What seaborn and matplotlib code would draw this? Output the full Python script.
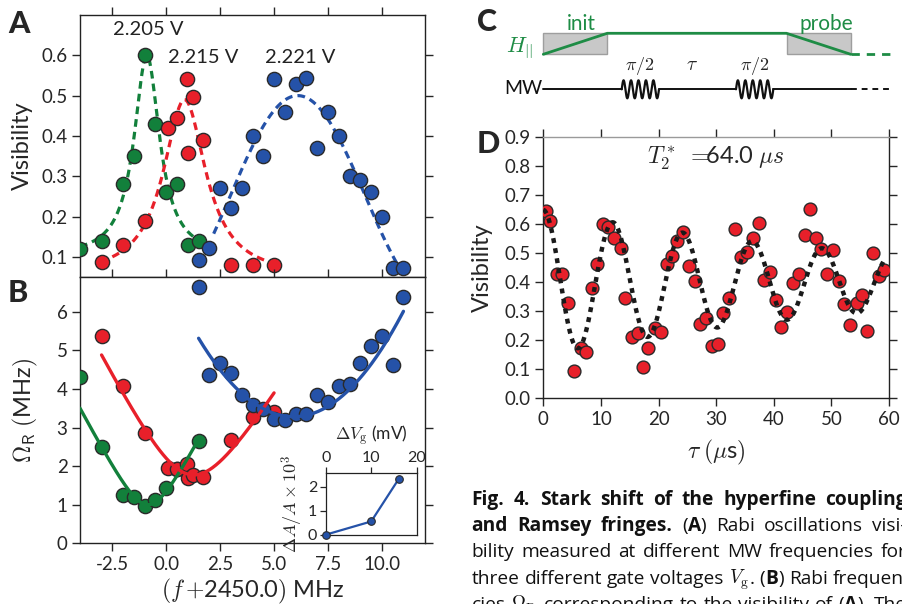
import numpy as np
import matplotlib
matplotlib.use('Agg')
import matplotlib.pyplot as plt
import seaborn as sns
from matplotlib.patches import Rectangle

# ---- data ----
freq_green = [-4, -3, -2, -1.5, -1, -0.5, 0, 0.5, 1, 1.5]
vis_green = [0.12, 0.14, 0.28, 0.35, 0.60, 0.43, 0.26, 0.28, 0.13, 0.14]
rabi_green = [4.32, 2.50, 1.25, 1.21, 0.97, 1.12, 1.42, 1.92, 1.81, 2.66]

freq_red = [-3, -2, -1, 0.1, 0.5, 0.95, 1.0, 1.25, 1.7, 3, 4, 5]
vis_red = [0.087, 0.13, 0.19, 0.42, 0.445, 0.54, 0.357, 0.497, 0.39, 0.08, 0.08, 0.08]
rabi_red = [5.37, 4.08, 2.85, 1.94, 1.92, 2.05, 1.68, 1.78, 1.71, 2.68, 3.28, 3.41]

freq_blue = [1.5, 2, 2.5, 3, 3.5, 4, 4.5, 5, 5.5, 6, 6.5, 7, 7.5, 8, 8.5, 9, 9.5, 10, 10.5, 11]
vis_blue = [0.092, 0.122, 0.27, 0.22, 0.27, 0.40, 0.35, 0.54, 0.46, 0.53,
            0.543, 0.37, 0.46, 0.40, 0.30, 0.29, 0.262, 0.20, 0.072, 0.072]
rabi_blue = [6.63, 4.36, 4.66, 4.40, 3.84, 3.58, 3.47, 3.21, 3.20, 3.35,
             3.35, 3.84, 3.67, 4.07, 4.14, 4.68, 5.11, 5.37, 4.62, 6.37]

gate_labels = ['2.205 V', '2.215 V', '2.221 V']

inset_dvg = [0, 10, 16]
inset_dA = [0.0, 0.55, 2.3]

tau = [0.46, 1.16, 2.43, 3.3, 4.34, 5.38, 6.48, 7.35, 8.5, 9.26, 10.3, 11.28, 12.27, 13.42,
       14.18, 15.33, 16.37, 17.24, 18.23, 19.38, 20.37, 21.41, 22.28, 23.26, 24.3, 25.34,
       26.33, 27.19, 28.24, 29.22, 30.26, 31.24, 32.29, 33.27, 34.31, 35.29, 36.34, 37.44,
       38.3, 39.34, 40.33, 41.25, 42.35, 43.39, 44.38, 45.42, 46.29, 47.27, 48.14, 49.18,
       50.34, 51.32, 52.25, 53.23, 54.39, 55.37, 56.24, 57.28, 58.26, 59.13]
vis_ramsey = [0.647, 0.613, 0.429, 0.429, 0.328, 0.095, 0.175, 0.161, 0.379, 0.463, 0.601,
              0.59, 0.552, 0.517, 0.345, 0.213, 0.224, 0.107, 0.172, 0.241, 0.228, 0.463,
              0.492, 0.543, 0.575, 0.457, 0.406, 0.256, 0.278, 0.182, 0.186, 0.293, 0.345,
              0.584, 0.486, 0.503, 0.552, 0.606, 0.408, 0.434, 0.339, 0.247, 0.299, 0.397,
              0.429, 0.563, 0.652, 0.552, 0.515, 0.429, 0.511, 0.406, 0.324, 0.253, 0.328,
              0.356, 0.232, 0.5, 0.423, 0.443]

# fit parameters (as drawn in the figure)
lor_green = dict(x0=-0.9, w=0.72, amp=0.5, base=0.1, lo=-4, hi=1.5)
lor_red = dict(x0=0.85, w=1.2, amp=0.44, base=0.05, lo=-2.5, hi=4.65)
cos_blue = dict(x0=6.1, k=0.25, amp=0.5, lo=2.2, hi=10.7)
hyp_green = dict(x0=-0.85, om=1.0, a=1.065, tilt=0.0, lo=-4, hi=1.5)
hyp_red = dict(x0=1.1, om=1.78, a=1.0, tilt=-0.1, lo=-3, hi=5)
quad_blue = dict(x0=5.9, om=3.28, k=0.105, lo=1.5, hi=11)
ramsey_fit = dict(mean=0.4, amp=0.25, t2=64.0, period=12.1, lo=0, hi=59.5)

GREEN = '#12803b'
RED = '#e8202a'
BLUE = '#2552a8'
EDGE = '#2a2a2a'

sns.set_theme(style='ticks')
plt.rcParams['font.family'] = ['Lato', 'DejaVu Sans']
plt.rcParams['mathtext.fontset'] = 'cm'
plt.rcParams['axes.unicode_minus'] = False
plt.rcParams['axes.edgecolor'] = '#222222'
plt.rcParams['axes.linewidth'] = 1.0

W, H = 902, 604
fig = plt.figure(figsize=(W / 100, H / 100), dpi=100)


def box(l, t, r, b):
    return [l / W, 1 - b / H, (r - l) / W, (b - t) / H]


ax_a = fig.add_axes(box(80, 15, 425, 277))
ax_b = fig.add_axes(box(80, 277, 425, 543.3))
ax_in = fig.add_axes(box(325.7, 473.3, 416.7, 534.7))
ax_c = fig.add_axes(box(460, 0, 902, 120))
ax_d = fig.add_axes(box(543.3, 137.3, 889, 398.3))

TICK = 13.5
LABEL = 17

# ---- panel A ----
def lorentz(p, x):
    return p['base'] + p['amp'] / (1 + ((x - p['x0']) / p['w']) ** 2)

for p, c in [(lor_green, GREEN), (lor_red, RED)]:
    xs = np.linspace(p['lo'], p['hi'], 200)
    ln, = ax_a.plot(xs, lorentz(p, xs), color=c, lw=2.3, zorder=2)
    ln.set_dashes((2.4, 1.6))
xs = np.linspace(cos_blue['lo'], cos_blue['hi'], 200)
ln, = ax_a.plot(xs, cos_blue['amp'] * np.cos(cos_blue['k'] * (xs - cos_blue['x0'])) ** 2,
                color=BLUE, lw=2.3, zorder=2)
ln.set_dashes((2.4, 1.6))

for fx, fy, c in [(freq_green, vis_green, GREEN), (freq_red, vis_red, RED), (freq_blue, vis_blue, BLUE)]:
    sns.scatterplot(x=fx, y=fy, ax=ax_a, color=c, s=105, edgecolor=EDGE, linewidth=1, zorder=3)

ax_a.text(-2.47, 0.65, gate_labels[0], fontsize=14.5, color='#222222')
ax_a.text(0.06, 0.58, gate_labels[1], fontsize=14.5, color='#222222')
ax_a.text(4.58, 0.58, gate_labels[2], fontsize=14.5, color='#222222')

ax_a.set_xlim(-4, 12)
ax_a.set_ylim(0.05, 0.7)
ax_a.set_xticks([-2.5, 0, 2.5, 5, 7.5, 10])
ax_a.set_yticks([0.1, 0.2, 0.3, 0.4, 0.5, 0.6])
ax_a.set_yticklabels(['0.1', '0.2', '0.3', '0.4', '0.5', '0.6'])
ax_a.tick_params(direction='out', length=6, width=1, labelsize=TICK, top=True, right=True,
                 bottom=False, labelbottom=False, pad=3)
ax_a.set_ylabel('Visibility', fontsize=LABEL)
ax_a.yaxis.set_label_coords(-0.136, 0.5)

# ---- panel B ----
def hyper(p, x):
    d = x - p['x0']
    return np.sqrt(p['om'] ** 2 + (p['a'] * d) ** 2) + p['tilt'] * d

for p, c in [(hyp_green, GREEN), (hyp_red, RED)]:
    xs = np.linspace(p['lo'], p['hi'], 200)
    ax_b.plot(xs, hyper(p, xs), color=c, lw=2.4, zorder=4)
xs = np.linspace(quad_blue['lo'], quad_blue['hi'], 200)
ax_b.plot(xs, quad_blue['om'] + quad_blue['k'] * (xs - quad_blue['x0']) ** 2, color=BLUE, lw=2.4, zorder=4)

for fx, fy, c in [(freq_green, rabi_green, GREEN), (freq_red, rabi_red, RED), (freq_blue, rabi_blue, BLUE)]:
    sns.scatterplot(x=fx, y=fy, ax=ax_b, color=c, s=105, edgecolor=EDGE, linewidth=1, zorder=3)

ax_b.set_xlim(-4, 12)
ax_b.set_ylim(0, 6.9)
ax_b.set_xticks([-2.5, 0, 2.5, 5, 7.5, 10])
ax_b.set_xticklabels(['-2.5', '0.0', '2.5', '5.0', '7.5', '10.0'])
ax_b.set_yticks([0, 1, 2, 3, 4, 5, 6])
ax_b.tick_params(direction='out', length=6, width=1, labelsize=TICK, top=True, right=True, pad=3)
ax_b.set_ylabel(r'$\Omega_{\mathsf{R}}$ $($MHz$)$', fontsize=LABEL)
ax_b.yaxis.set_label_coords(-0.116, 0.5)
ax_b.set_xlabel(r'$(f\,{+}$2450.0$)$ MHz', fontsize=LABEL)
ax_b.xaxis.set_label_coords(0.5, -0.125)

# ---- inset ----
ax_in.set_facecolor('white')
sns.lineplot(x=inset_dvg, y=inset_dA, ax=ax_in, color=BLUE, lw=1.6)
sns.scatterplot(x=inset_dvg, y=inset_dA, ax=ax_in, color=BLUE, s=30, edgecolor=EDGE,
                linewidth=0.8, zorder=3, clip_on=False)
ax_in.set_xlim(0, 20)
ax_in.set_ylim(0, 2.55)
ax_in.set_xticks([0, 10, 20])
ax_in.set_yticks([0, 1, 2])
ax_in.xaxis.tick_top()
ax_in.xaxis.set_label_position('top')
ax_in.tick_params(direction='out', length=4, width=0.9, labelsize=11.5, pad=2)
ax_in.set_xlabel(r'$\Delta V_{\rm g}$ (mV)', fontsize=12.5, labelpad=8)
ax_in.set_ylabel(r'$\Delta A/A\times 10^3$', fontsize=13, labelpad=2)
for s in ax_in.spines.values():
    s.set_linewidth(0.9)

# ---- panel C (pulse scheme) ----
ax_c.set_xlim(460, 902)
ax_c.set_ylim(120, 0)
ax_c.axis('off')
ax_c.add_patch(Rectangle((543.3, 33.3), 64, 21, fc='#c8c8c8', ec='#9e9e9e', lw=1))
ax_c.add_patch(Rectangle((786.5, 33.3), 64, 21, fc='#c8c8c8', ec='#9e9e9e', lw=1))
ax_c.plot([543.3, 607.3, 786.5, 850.7], [54.3, 33.3, 33.3, 54.3], color='#1e8c45', lw=2)
tail, = ax_c.plot([850.7, 890], [54.3, 54.3], color='#1e8c45', lw=2)
tail.set_dashes((3, 2.5))
ax_c.text(581, 24, 'init', color='#1e8c45', fontsize=15, ha='center', va='center')
ax_c.text(826, 24, 'probe', color='#1e8c45', fontsize=15, ha='center', va='center')
ax_c.text(520, 48, r'$H_{||}$', color='#1e8c45', fontsize=16, ha='center', va='center')
ax_c.text(523, 89, 'MW', color='#111111', fontsize=14, ha='center', va='center')

mw_y = 89.3
segs = [(543.3, 621.7), (659, 736), (773.3, 850.7)]
for a, b in segs:
    ax_c.plot([a, b], [mw_y, mw_y], color='#111111', lw=1.4)
for a, b in [(621.7, 659), (736, 773.3)]:
    xx = np.linspace(a, b, 200)
    ax_c.plot(xx, mw_y - 9 * np.sin(2 * np.pi * 5 * (xx - a) / (b - a)), color='#111111', lw=1.6)
mw_tail, = ax_c.plot([850.7, 890], [mw_y, mw_y], color='#111111', lw=1.4)
mw_tail.set_dashes((3, 2.5))
ax_c.text(640, 66, r'$\pi/2$', fontsize=13, ha='center', va='center')
ax_c.text(755, 66, r'$\pi/2$', fontsize=13, ha='center', va='center')
ax_c.text(692, 64, r'$\tau$', fontsize=14, ha='center', va='center')

# ---- panel D ----
sns.scatterplot(x=tau, y=vis_ramsey, ax=ax_d, color=RED, s=85, edgecolor=EDGE, linewidth=1, zorder=3)
ts = np.linspace(ramsey_fit['lo'], ramsey_fit['hi'], 400)
fit = ramsey_fit['mean'] + ramsey_fit['amp'] * np.exp(-ts / ramsey_fit['t2']) * np.cos(2 * np.pi * ts / ramsey_fit['period'])
ln, = ax_d.plot(ts, fit, color='#1a1a1a', lw=3.2, zorder=4, solid_capstyle='butt')
ln.set_dashes((1.1, 1.2))
ln.set_dash_capstyle('butt')
ax_d.set_xlim(0, 60)
ax_d.set_ylim(0, 0.9)
ax_d.set_xticks([0, 10, 20, 30, 40, 50, 60])
ax_d.set_yticks(np.round(np.arange(0, 0.91, 0.1), 1))
ax_d.set_yticklabels([f'{v:.1f}' for v in np.arange(0, 0.91, 0.1)])
ax_d.tick_params(direction='out', length=6, width=1, labelsize=TICK, top=True, right=True, pad=3)
ax_d.spines['top'].set_color('#9a9a9a')
ax_d.set_ylabel('Visibility', fontsize=LABEL)
ax_d.yaxis.set_label_coords(-0.145, 0.5)
ax_d.set_xlabel(r'$\tau$ $(\mu$s$)$', fontsize=LABEL)
ax_d.xaxis.set_label_coords(0.5, -0.15)
ax_d.text(0.5, 0.92, r'$T_2^*\ {=}\!\!$64.0 $\mu s$', transform=ax_d.transAxes, fontsize=17,
          ha='center', va='center')

# ---- panel letters ----
for letter, x, y in [('A', 8, 33), ('B', 8, 302), ('C', 477, 31), ('D', 477, 153)]:
    fig.text(x / W, 1 - y / H, letter, fontsize=22, fontweight='black', va='baseline', ha='left')

# ---- caption (justified column, cut by the right edge) ----
CAP = ['Open Sans', 'DejaVu Sans']
renderer = fig.canvas.get_renderer()


def piece_width(s, weight, size):
    t = fig.text(0, 0, 'x' + s + 'x', fontsize=size, fontweight=weight, family=CAP)
    w1 = t.get_window_extent(renderer).width
    t.set_text('xx')
    w0 = t.get_window_extent(renderer).width
    t.remove()
    return w1 - w0


caption = [
    [('Fig. 4. Stark shift of the hyperfine coupling', 'bold')],
    [('and Ramsey fringes.', 'bold'), (' (', 'normal'), ('A', 'bold'), (') Rabi oscillations visi-', 'normal')],
    [('bility measured at different MW frequencies for', 'normal')],
    [('three different gate voltages ', 'normal'), (r'$V_\mathrm{g}$', 'normal'), ('. (', 'normal'),
     ('B', 'bold'), (') Rabi frequen-', 'normal')],
    [('cies ', 'normal'), (r'$\Omega_\mathrm{R}$', 'normal'), (' corresponding to the visibility of (', 'normal'),
     ('A', 'bold'), ('). The', 'normal')],
]
cap_size = 13.8
col_left, col_width = 471.7, 435
y0 = 505
for i, line in enumerate(caption):
    tokens = []
    pending = False
    for s, wt in line:
        parts = [s] if s.startswith('$') else s.split(' ')
        for j, part in enumerate(parts):
            if j > 0:
                pending = True
            if part:
                tokens.append((part, wt, pending))
                pending = False
    space_w = piece_width(' ', 'normal', cap_size)
    widths = [piece_width(t, wt, cap_size) for t, wt, _ in tokens]
    n_gaps = sum(1 for _, _, sp in tokens if sp)
    natural = sum(widths) + n_gaps * space_w
    extra = max(0.0, (col_width - natural) / max(n_gaps, 1))
    x = col_left
    y = y0 + i * 26.2
    for (t, wt, sp), w in zip(tokens, widths):
        if sp:
            x += space_w + extra
        fig.text(x / W, 1 - y / H, t, fontsize=cap_size, fontweight=wt, family=CAP,
                 va='baseline', ha='left', color='#111111')
        x += w

fig.savefig('out.png', dpi=100)
